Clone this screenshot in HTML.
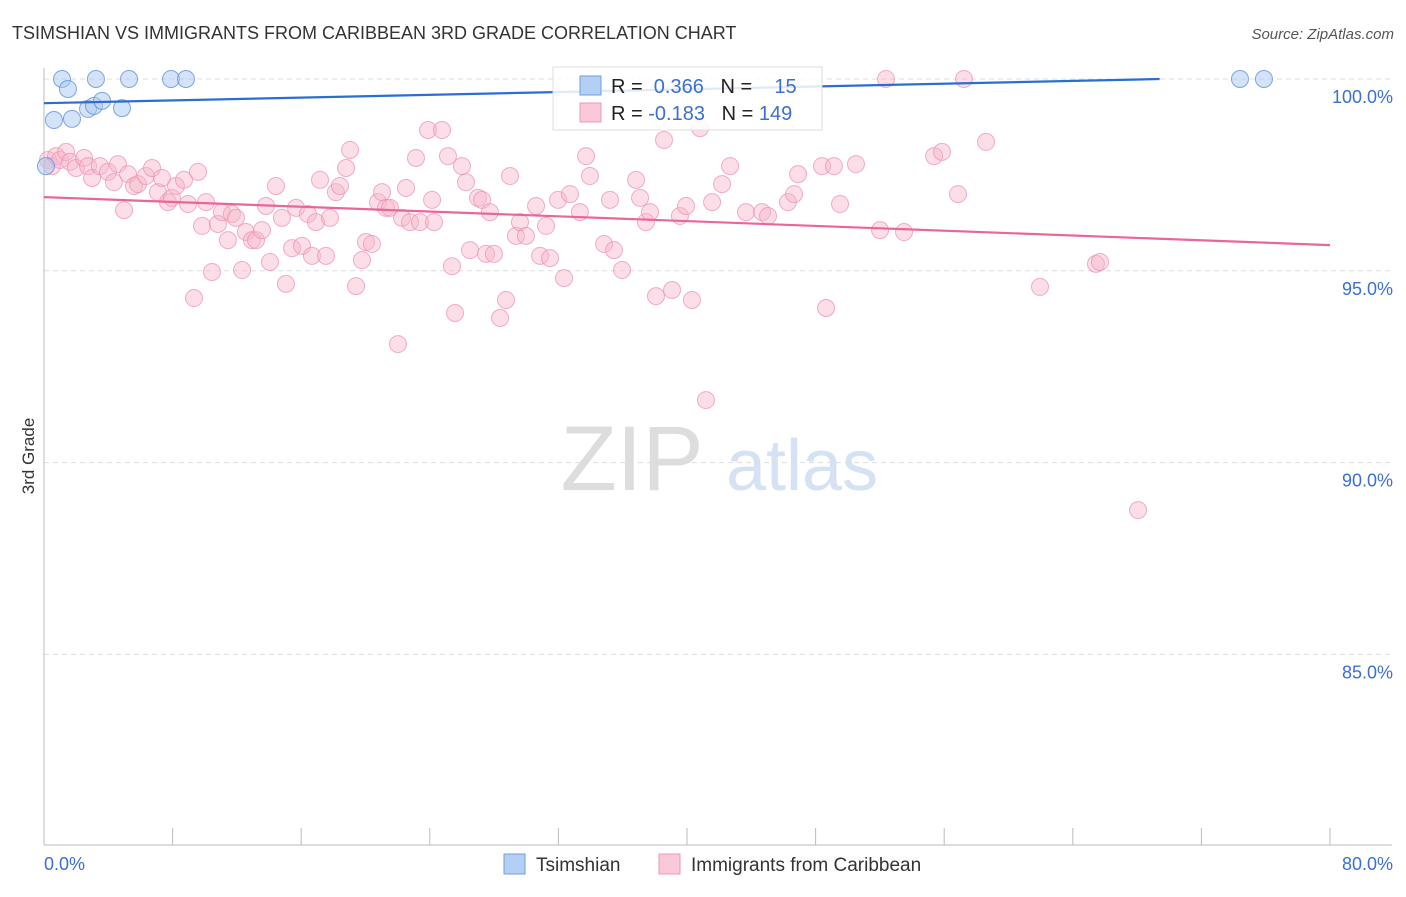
<!DOCTYPE html>
<html><head><meta charset="utf-8"><style>
body{margin:0;background:#fff;font-family:"Liberation Sans",sans-serif}
svg text{font-family:"Liberation Sans",sans-serif}
</style></head><body>
<svg id="chart" width="1406" height="892" viewBox="0 0 1406 892">
<text x="12" y="39" font-size="18" fill="#333">TSIMSHIAN VS IMMIGRANTS FROM CARIBBEAN 3RD GRADE CORRELATION CHART</text>
<text x="1394" y="39" font-size="15" fill="#555" text-anchor="end" font-style="italic">Source: ZipAtlas.com</text>
<g>
<text x="632" y="490" font-size="92" fill="#ddd" font-family="Liberation Serif" text-anchor="middle">ZIP</text>
<text x="802" y="490" font-size="72" fill="#d4e2f4" text-anchor="middle">atlas</text>
</g>
<g id="grid"></g><g id="axes"></g><g id="marks"></g>
<text transform="translate(34,456) rotate(-90)" font-size="17" fill="#333" text-anchor="middle">3rd Grade</text>
<g>
<rect x="553" y="67" width="269" height="63" fill="#fff" fill-opacity="0.85" stroke="#ddd"/>
<rect x="580" y="76" width="21" height="19" fill="#b3cff3" stroke="#6d9ee0"/>
<rect x="580" y="103" width="21" height="19" fill="#fac8d6" stroke="#ee9ab5"/>
<text x="611" y="93" font-size="20" fill="#222">R = <tspan fill="#3b6fd4">&#160;0.366</tspan>&#160;&#160;&#160;N = <tspan fill="#3b6fd4">&#160;&#160;&#160;15</tspan></text>
<text x="611" y="120" font-size="20" fill="#222">R = <tspan fill="#3b6fd4">-0.183</tspan>&#160;&#160;&#160;N = <tspan fill="#3b6fd4">149</tspan></text>
</g>
<g>
<rect x="504" y="854" width="21" height="20" fill="#b3cff3" stroke="#6d9ee0"/>
<text x="536" y="871" font-size="19" fill="#333">Tsimshian</text>
<rect x="659" y="854" width="21" height="20" fill="#fac8d6" stroke="#ee9ab5"/>
<text x="691" y="871" font-size="19" fill="#333">Immigrants from Caribbean</text>
</g>
</svg>
<script>
const yTicks=[100,95,90,85];
const yTickLabels=["100.0%","95.0%","90.0%","85.0%"];
const xTickLabels=["0.0%","80.0%"];
const blueX=[1.12,1.49,3.23,5.29,7.90,8.83,0.62,1.74,2.74,3.11,3.61,4.85,74.40,75.89,0.12];
const blueY=[100,99.74,100,100,100,100,98.93,98.96,99.22,99.30,99.43,99.24,100,100,97.73];
const pinkX=[0.25,0.5,0.75,1,1.37,1.62,1.99,2.49,2.74,2.99,3.48,3.98,4.35,4.6,4.98,5.23,5.6,5.85,6.34,6.72,7.09,7.34,7.71,7.96,8.21,8.71,8.96,9.33,9.58,9.83,10.08,10.45,10.82,11.07,11.44,11.69,11.94,12.32,12.56,12.94,13.19,13.56,13.81,14.06,14.43,14.8,15.05,15.43,15.68,16.05,16.42,16.67,16.92,17.17,17.54,17.79,18.16,18.41,18.79,19.04,19.41,19.78,20.03,20.4,20.78,21.03,21.28,21.52,22.02,22.27,22.52,22.77,23.14,23.39,23.89,24.14,24.26,24.76,25.13,25.38,25.57,26,26.25,26.5,27,27.25,27.5,27.74,27.99,28.37,28.74,28.99,29.36,29.61,29.98,30.61,30.86,31.23,31.48,31.98,32.35,32.72,33.34,33.72,33.96,34.84,35.21,35.46,35.96,36.83,37.08,37.45,37.7,38.07,38.57,39.07,39.56,39.94,40.31,40.81,41.18,41.56,42.18,42.68,43.67,44.67,45.04,46.28,46.66,46.91,48.4,48.65,49.14,49.52,50.51,52.01,52.38,53.5,55.37,55.86,56.86,57.23,58.6,61.96,65.44,65.69,68.06];
const pinkY=[97.89,97.73,97.99,97.89,98.1,97.84,97.68,97.94,97.73,97.42,97.73,97.58,97.31,97.78,96.58,97.52,97.21,97.26,97.47,97.68,97.05,97.42,96.79,96.9,97.21,97.37,96.74,94.29,97.58,96.17,96.79,94.97,96.22,96.53,95.8,96.48,96.38,95.02,96.01,95.8,95.8,96.06,96.69,95.23,97.21,96.38,94.66,95.59,96.64,95.65,96.48,95.39,96.27,97.37,95.39,96.38,97.05,97.21,97.68,98.15,94.6,95.28,95.75,95.7,96.79,97.05,96.64,96.64,93.09,96.38,97.16,96.27,97.94,96.27,98.67,96.85,96.27,98.67,97.99,95.12,93.9,97.73,97.31,95.54,96.9,96.85,95.44,96.53,95.44,93.77,94.24,97.47,95.91,96.27,95.91,96.69,95.39,96.17,95.33,96.85,94.81,97,96.53,97.99,97.47,95.7,96.85,95.54,95.02,97.37,96.9,96.27,96.53,94.34,98.41,94.5,96.43,96.69,94.24,98.72,91.63,96.79,97.26,97.73,96.53,96.53,96.43,96.79,97,97.52,97.73,94.03,97.73,96.74,97.78,96.06,100,96.01,97.99,98.1,97,100,98.36,94.58,95.18,95.23,88.76];
const blueTrendX=[0,69.4];const blueTrendY=[99.37,100];
const pinkTrendX=[0,80];const pinkTrendY=[96.92,95.67];
const NS="http://www.w3.org/2000/svg";
const X=v=>44+v/80*1286, Y=v=>79+(100-v)*38.36;
function mk(tag,attrs,parent){const e=document.createElementNS(NS,tag);for(const k in attrs)e.setAttribute(k,attrs[k]);parent.appendChild(e);return e;}
const grid=document.getElementById('grid'),axes=document.getElementById('axes'),marks=document.getElementById('marks');
yTicks.forEach((t,i)=>{
 const l=mk('line',{x1:44,x2:1392,y1:Y(t),y2:Y(t),stroke:'#ddd','stroke-dasharray':'5,4'},grid);
 
 
 const tx=mk('text',{x:1393,y:Y(t)+24,'font-size':18,fill:'#3b6fd4','text-anchor':'end'},grid);
 tx.textContent=yTickLabels[i];
 
 
});
const ax=mk('line',{x1:44,x2:44,y1:68,y2:845,stroke:'#bbb'},axes);


const bx=mk('line',{x1:44,x2:1392,y1:845,y2:845,stroke:'#bbb'},axes);


for(let i=0;i<=10;i++){
 const t=mk('line',{x1:X(i*8),x2:X(i*8),y1:828,y2:845,stroke:'#bbb'},axes);
 
 
}
[[0,'start',44],[80,'end',1393]].forEach((d,i)=>{
 const t=mk('text',{x:d[2],y:870,'font-size':18,fill:'#3b6fd4','text-anchor':d[1]},axes);
 t.textContent=xTickLabels[i];
 
 
});
pinkX.forEach((x,i)=>{
 const c=mk('circle',{cx:X(x),cy:Y(pinkY[i]),r:8.5,fill:'#f7b6ca','fill-opacity':0.45,stroke:'#ec8fae','stroke-opacity':0.7},marks);
 
 
});
blueX.forEach((x,i)=>{
 const c=mk('circle',{cx:X(x),cy:Y(blueY[i]),r:8.5,fill:'#a9c8f0','fill-opacity':0.5,stroke:'#5f94dc','stroke-opacity':0.8},marks);
 
 
});
const pl=mk('line',{x1:X(pinkTrendX[0]),y1:Y(pinkTrendY[0]),x2:X(pinkTrendX[1]),y2:Y(pinkTrendY[1]),stroke:'#e8669a','stroke-width':2.2},marks);


const bl=mk('line',{x1:X(blueTrendX[0]),y1:Y(blueTrendY[0]),x2:X(blueTrendX[1]),y2:Y(blueTrendY[1]),stroke:'#2a6fd0','stroke-width':2.2},marks);


</script>
</body></html>
